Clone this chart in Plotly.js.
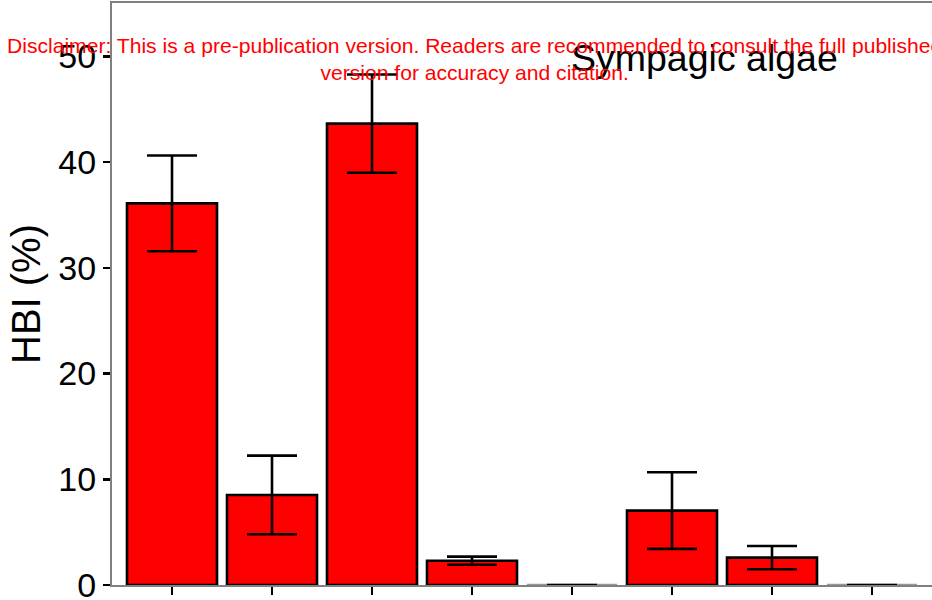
<!DOCTYPE html>
<html>
<head>
<meta charset="utf-8">
<script src="https://cdn.plot.ly/plotly-3.0.1.min.js"></script>
<style>
html,body{margin:0;padding:0;overflow:hidden;background:#fff;}
#chart{width:940px;height:620px;}
</style>
</head>
<body>
<div id="chart"></div>
<script>
// Data
const categories = [0, 1, 2, 3, 4, 5, 6, 7];
const hbiValues  = [36.1, 8.52, 43.65, 2.3, 0, 7.04, 2.59, 0];
const hbiErrors  = [4.53, 3.72, 4.65, 0.38, null, 3.62, 1.1, null];
const panelTitle = 'Sympagic algae';
const yTitle = 'HBI (%)';
const yTicks = [0, 10, 20, 30, 40, 50];
const disclaimer = 'Disclaimer: This is a pre-publication version. Readers are recommended to consult the full published<br>version for accuracy and citation.';

const FONT = '"Liberation Sans", Arial, Helvetica, sans-serif';

const trace = {
  type: 'bar',
  x: categories,
  y: hbiValues,
  width: 0.9,
  marker: {
    color: '#ff0000',
    line: {color: hbiValues.map(v => v === 0 ? '#999999' : '#000000'), width: 2.6}
  },
  error_y: {type: 'data', array: hbiErrors, visible: true, color: '#000000', thickness: 2.6, width: 25},
  hoverinfo: 'none'
};

const layout = {
  width: 940,
  height: 620,
  margin: {l: 112, r: 6, t: 3, b: 35},
  paper_bgcolor: '#ffffff',
  plot_bgcolor: '#ffffff',
  showlegend: false,
  font: {family: FONT, color: '#000000'},
  xaxis: {
    range: [-0.6, 7.62],
    tickvals: categories,
    showticklabels: false,
    ticks: 'outside',
    ticklen: 8,
    tickwidth: 2.5,
    tickcolor: '#000000',
    showgrid: false,
    zeroline: false,
    showline: true,
    linecolor: '#808080',
    linewidth: 2,
    mirror: true
  },
  yaxis: {
    range: [0, 55.06],
    tickvals: yTicks,
    ticks: 'outside',
    ticklen: 7,
    tickwidth: 2.5,
    tickcolor: '#000000',
    tickfont: {size: 34, family: FONT, color: '#000000'},
    showgrid: false,
    zeroline: false,
    showline: true,
    linecolor: '#808080',
    linewidth: 2,
    mirror: true,
    title: {text: yTitle, font: {size: 40, family: FONT, color: '#000000'}, standoff: 5}
  },
  annotations: [
    {
      text: panelTitle, xref: 'paper', yref: 'paper', x: 0.7214, y: 0.905,
      xanchor: 'center', yanchor: 'middle', showarrow: false,
      font: {size: 37.5, family: FONT, color: '#000000'}
    },
    {
      text: disclaimer, xref: 'paper', yref: 'paper', x: 0.441, y: 0.904,
      xanchor: 'center', yanchor: 'middle', align: 'center', showarrow: false,
      font: {size: 21.1, family: FONT, color: '#ff0000'}
    }
  ]
};

Plotly.newPlot('chart', [trace], layout, {displayModeBar: false, staticPlot: true});
</script>
</body>
</html>
